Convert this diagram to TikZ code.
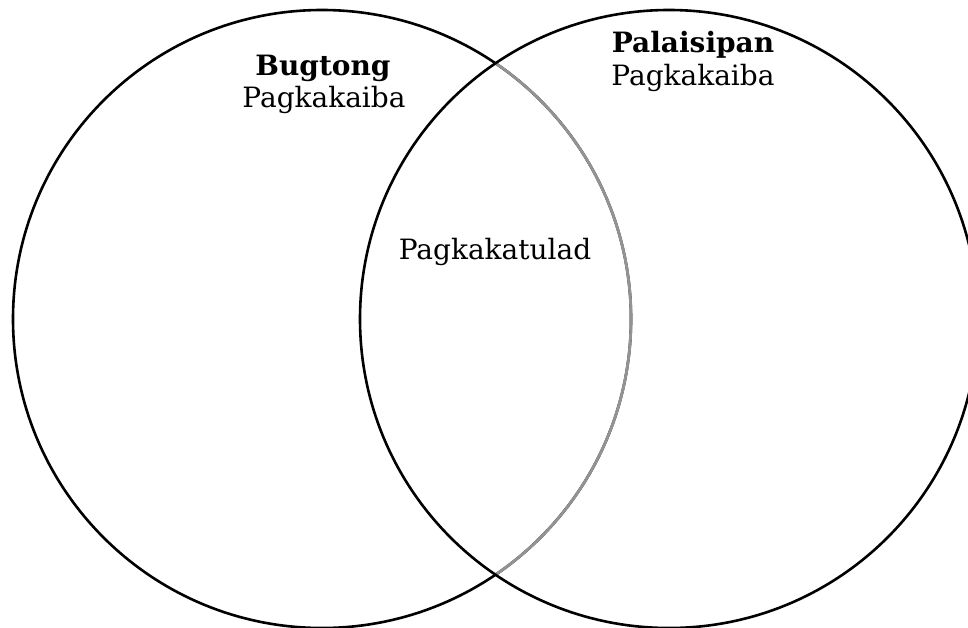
\documentclass[tikz,border=0pt]{standalone}
\usepackage{fontspec}
\setmainfont{DejaVu Serif}
\begin{document}
\begin{tikzpicture}[x=1pt, y=-1pt, line width=2.6pt]
    \useasboundingbox (0, 0) rectangle (968, 628);
    \fontsize{28}{33}\selectfont
    \draw (322, 319) circle[radius=309];
    \begin{scope}
        \clip (669, 319) circle[radius=309];
        \draw[gray!85, line width=2.8pt] (322, 319) circle[radius=309];
    \end{scope}
    \draw (669, 319) circle[radius=309];
    \node[font=\bfseries] (bugtong) at (323, 68) {Bugtong};
    \node (kaibaL) at (324, 100) {Pagkakaiba};
    \node[font=\bfseries] (palaisipan) at (693, 45) {Palaisipan};
    \node (kaibaR) at (693, 78) {Pagkakaiba};
    \node (tulad) at (495, 252) {Pagkakatulad};
\end{tikzpicture}
\end{document}
